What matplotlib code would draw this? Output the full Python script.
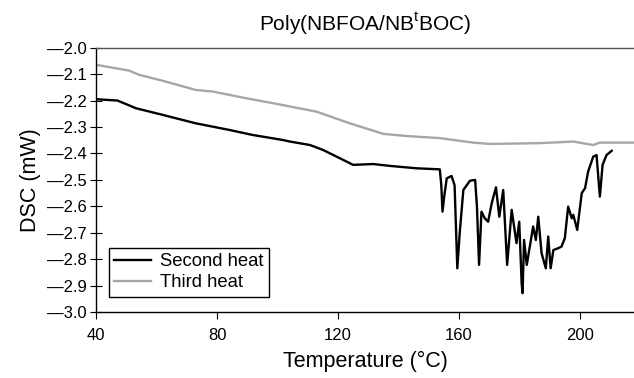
import matplotlib
matplotlib.use("Agg")
import matplotlib.pyplot as plt

plt.rcParams['font.family'] = ['Liberation Sans', 'DejaVu Sans']

# Second heat (black)
t2 = [40.0, 47.0, 53.1, 61.9, 72.9, 84.0, 91.7, 101.7, 104.1, 110.7, 115.1, 120.6,
      125.0, 131.7, 137.2, 146.0, 153.7, 154.2, 154.6, 155.2, 156.0, 157.6, 158.6,
      159.5, 160.3, 161.5, 163.7, 165.4, 166.0, 166.7, 167.5, 168.6, 169.7, 170.9,
      172.3, 173.4, 174.7, 176.0, 177.5, 179.1, 180.0, 180.8, 181.1, 181.6, 182.5,
      183.5, 184.6, 185.5, 186.3, 187.4, 188.8, 189.6, 190.4, 191.3, 192.9, 194.0,
      195.1, 196.2, 197.4, 197.9, 199.2, 200.7, 201.8, 202.8, 204.5, 205.6, 206.7,
      207.6, 208.9, 210.6]
dsc2 = [-2.195, -2.200, -2.229, -2.254, -2.286, -2.311, -2.330, -2.349, -2.355, -2.368,
        -2.387, -2.418, -2.443, -2.440, -2.447, -2.456, -2.460, -2.520, -2.620, -2.560,
        -2.494, -2.485, -2.520, -2.834, -2.700, -2.538, -2.503, -2.500, -2.600, -2.821,
        -2.620, -2.645, -2.658, -2.588, -2.528, -2.639, -2.538, -2.821, -2.613, -2.739,
        -2.658, -2.890, -2.928, -2.727, -2.821, -2.752, -2.676, -2.727, -2.639, -2.777,
        -2.834, -2.714, -2.834, -2.765, -2.758, -2.752, -2.720, -2.601, -2.645, -2.632,
        -2.689, -2.550, -2.531, -2.469, -2.412, -2.406, -2.563, -2.443, -2.406, -2.390]

# Third heat (gray)
t3 = [40.0, 50.9, 54.2, 61.9, 72.9, 78.5, 89.5, 101.7, 106.1, 112.9, 123.9, 135.0,
      142.7, 153.7, 164.8, 170.3, 186.9, 197.9, 204.5, 206.7, 217.8]
dsc3 = [-2.065, -2.087, -2.103, -2.125, -2.160, -2.166, -2.191, -2.217, -2.227, -2.242,
        -2.286, -2.326, -2.334, -2.342, -2.359, -2.364, -2.361, -2.355, -2.368, -2.359,
        -2.359]

xticks = [40, 80, 120, 160, 200]
yticks = [-2.0 - 0.1 * i for i in range(11)]

fig = plt.figure(figsize=(6.34, 3.78), dpi=100)
ax = fig.add_axes([0.152, 0.174, 0.848, 0.7])

ax.plot(t2, dsc2, color='black', lw=1.7, label='Second heat')
ax.plot(t3, dsc3, color='#a6a6a6', lw=1.7, label='Third heat')

ax.set_xlim(40, 218)
ax.set_ylim(-3.0, -2.0)
ax.set_xticks(xticks)
ax.set_yticks(yticks)
ax.set_yticklabels(['\u2014%.1f' % abs(v) for v in yticks])
ax.tick_params(axis='x', direction='out', length=5, labelsize=12, pad=6)
ax.tick_params(axis='y', direction='inout', length=8, labelsize=12, pad=3)

ax.spines['right'].set_visible(False)
for s in ('top', 'left', 'bottom'):
    ax.spines[s].set_linewidth(1.0)
ax.spines['top'].set_color('#555555')

ax.set_xlabel('Temperature (\u00b0C)', fontsize=15.5, labelpad=6)
ax.set_ylabel('DSC (mW)', fontsize=15.5, labelpad=4)
ax.set_title('Poly(NBFOA/NB$^{\\mathregular{t}}$BOC)', fontsize=15, pad=12)

leg = ax.legend(loc='lower left', bbox_to_anchor=(0.023, 0.059), fontsize=13.3,
                frameon=True, fancybox=False, edgecolor='black', framealpha=1,
                handlelength=2.0, handletextpad=0.5, borderpad=0.3,
                labelspacing=0.2, borderaxespad=0)
leg.get_frame().set_linewidth(1.0)

fig.savefig('out.png', dpi=100)
